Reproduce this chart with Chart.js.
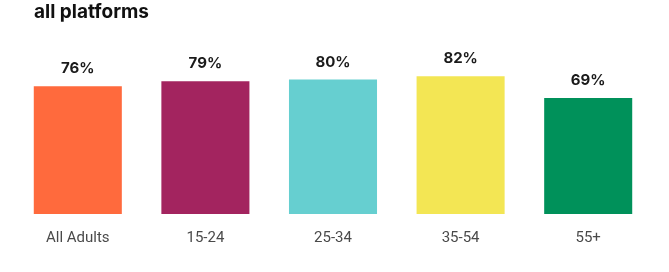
<!DOCTYPE html>
<html lang="en">
  <head>
    <meta charset="utf-8" />
    <title>all platforms</title>
    <script src="https://cdn.jsdelivr.net/npm/chart.js@4.4.0/dist/chart.umd.min.js"></script>
    <style type="text/css">
      body{
        margin: 0;
        background-color: #ffffff;
      }
      #wrap{
        position: relative;
        width: 669px;
        height: 272px;
        overflow: hidden;
      }
      #title{
        position: absolute;
        left: 34px;
        top: 0px;
        font-family: Inter, sans-serif;
        font-weight: 700;
        font-size: 19px;
        color: #111;
      }
      #chart{
        position: absolute;
        left: 0;
        top: 0;
      }
    </style>
  </head>
  <body>
    <div id="wrap">
      <canvas id="chart" width="669" height="272"></canvas>
      <div id="title">all platforms</div>
    </div>

    <script>
      var categories = ["All Adults", "15-24", "25-34", "35-54", "55+"];
      var values = [76, 79, 80, 82, 69];
      var barColors = ["#ff6a3d", "#a3245f", "#66cfd0", "#f3e654", "#00915a"];

      // value labels above each bar
      var valueLabels = {
        id: 'valueLabels',
        afterDatasetsDraw: function(chart){
          var ctx = chart.ctx;
          ctx.save();
          ctx.font = "700 15px Inter, sans-serif";
          ctx.fillStyle = "#1a1a1a";
          ctx.textAlign = "center";
          ctx.textBaseline = "bottom";
          chart.getDatasetMeta(0).data.forEach(function(bar, i){
            ctx.fillText(values[i] + "%", bar.x, bar.y - 10);
          });
          ctx.restore();
        }
      };

      new Chart(document.getElementById("chart").getContext('2d'), {
        type: "bar",
        data: {
          labels: categories,
          datasets: [{
            data: values,
            backgroundColor: barColors,
            borderWidth: 0,
            categoryPercentage: 1,
            barPercentage: 0.69
          }]
        },
        options: {
          responsive: false,
          animation: false,
          layout: { padding: { left: 14, right: 17, top: 46, bottom: 10 } },
          plugins: {
            legend: { display: false },
            tooltip: { enabled: false }
          },
          scales: {
            y: { display: false, min: 0, max: 100 },
            x: {
              grid: { display: false, drawTicks: false },
              border: { display: false },
              ticks: {
                padding: 15,
                color: "#4a4a4a",
                font: { family: "Roboto, sans-serif", size: 15, weight: 400 }
              }
            }
          }
        },
        plugins: [valueLabels]
      });
    </script>
  </body>
</html>
